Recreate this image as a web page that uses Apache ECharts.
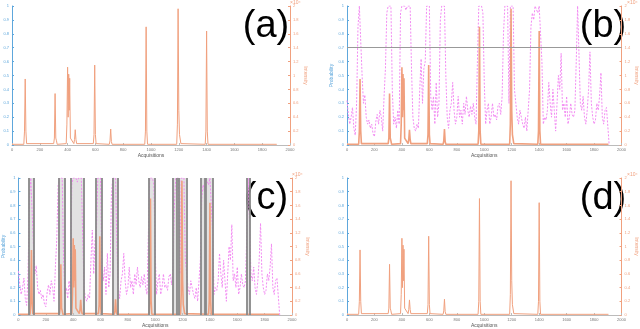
<!DOCTYPE html>
<html>
<head>
<meta charset="utf-8">
<script src="https://cdn.jsdelivr.net/npm/echarts@6/dist/echarts.min.js"></script>
<style>
  html, body { margin: 0; padding: 0; background: #fff; }
  #main { width: 640px; height: 329px; }
</style>
</head>
<body>
<div id="main"></div>
<script>
// probability, one value every 10 acquisitions (0 .. 1910)
var probStep = 10;
var probability = [
  0.32, 0.22, 0.15, 0.2, 0.27, 0.12, 0.07, 0.3, 0.85, 1,
  1, 0.5, 0.3, 0.36, 0.2, 0.15, 0.18, 0.12, 0.15, 0.08,
  0.06, 0.17, 0.22, 0.15, 0.25, 0.2, 0.1, 0.35, 0.55, 0.95,
  1, 1, 1, 0.4, 0.15, 0.2, 0.12, 0.25, 0.15, 0.95,
  1, 1, 1, 0.97, 1, 1, 1, 0.55, 0.2, 0.12,
  0.1, 0.15, 0.12, 0.4, 0.62, 0.3, 0.55, 0.6, 1, 1,
  1, 0.35, 0.25, 0.35, 0.15, 0.45, 0.2, 0.3, 0.9, 1,
  1, 1, 0.5, 0.2, 0.12, 0.25, 0.3, 0.45, 0.25, 0.15,
  0.2, 0.35, 0.2, 0.25, 0.15, 0.3, 0.22, 0.35, 0.25, 0.2,
  0.28, 0.22, 0.3, 0.2, 0.15, 0.6, 1, 1, 1, 0.95,
  0.45, 0.15, 0.25, 0.3, 0.15, 0.2, 0.3, 0.2, 0.22, 0.18,
  0.28, 0.3, 0.22, 0.35, 0.8, 1, 1, 1, 0.3, 1,
  1, 1, 0.4, 0.3, 0.2, 0.15, 0.25, 0.2, 0.15, 0.12,
  0.2, 0.1, 0.25, 0.4, 0.85, 0.95, 0.9, 1, 1, 0.95,
  1, 1, 0.6, 0.15, 0.2, 0.18, 0.25, 0.45, 0.3, 0.2,
  0.4, 0.25, 0.1, 0.3, 0.5, 0.4, 0.66, 0.25, 0.3, 0.2,
  0.35, 0.15, 0.2, 0.3, 0.22, 0.2, 0.25, 0.6, 1, 1,
  0.3, 0.25, 0.35, 0.2, 0.15, 0.25, 0.4, 0.67, 0.3, 0.2,
  0.15, 0.18, 0.3, 0.25, 0.35, 0.52, 0.2, 0.15, 0.25, 0.27,
  0.27, 0
];

// intensity (x10^4) read at the peaks
var intensityX = [0, 85, 90, 95, 100, 105, 300, 305, 310, 315, 320, 325,
  390, 395, 400, 404, 408, 412, 415, 420, 445, 450, 455, 460, 465,
  585, 590, 595, 600, 605, 700, 705, 710, 715, 720,
  955, 960, 965, 970, 975, 1185, 1190, 1195, 1200, 1205, 1210, 1215,
  1390, 1395, 1400, 1405, 1410, 1905];
var intensityY = [0.01, 0.01, 0.2, 0.95, 0.2, 0.02, 0.02, 0.1, 0.74, 0.1, 0.06, 0.01,
  0.02, 0.3, 1.12, 0.4, 1.02, 0.5, 0.96, 0.1, 0.02, 0.08, 0.22, 0.08, 0.02,
  0.02, 0.15, 1.15, 0.15, 0.02, 0.01, 0.06, 0.23, 0.05, 0.01,
  0.01, 0.2, 1.7, 0.2, 0.01, 0.01, 0.3, 1.96, 0.5, 0.15, 0.14, 0.02,
  0.01, 0.2, 1.64, 0.2, 0.01, 0.01];

var threshold = 0.7;
// detected regions in (c)
var shadeStart = [78, 297, 380, 568, 692, 953, 1129, 1174, 1334, 1372, 1669];
var shadeEnd   = [114, 340, 475, 608, 725, 994, 1158, 1227, 1362, 1424, 1693];

var panelLabels = ['(a)', '(b)', '(c)', '(d)'];

var probData = probability.map(function (v, i) { return [i * probStep, v]; });
var intData = intensityX.map(function (x, i) { return [x, intensityY[i]]; });
var shadeAreas = shadeStart.map(function (s, i) { return [{ xAxis: s }, { xAxis: shadeEnd[i] }]; });
var shadeEdges = shadeStart.concat(shadeEnd).map(function (x) { return { xAxis: x }; });

var blue = '#5ea7dc';
var orange = '#f0a07e';
var font = 'Liberation Sans';

var grids = [
  { left: 12, right: 350, top: 6, bottom: 184 },
  { left: 347, right: 14, top: 6, bottom: 184 },
  { left: 12, right: 348, top: 178, bottom: 12 },
  { left: 347, right: 14, top: 178, bottom: 12 }
];

var xAxes = [], yAxes = [];
grids.forEach(function (g, i) {
  xAxes.push({
    gridIndex: i, type: 'value', min: 0, max: 2000, interval: 200,
    name: 'Acquisitions', nameLocation: 'middle', nameGap: 8,
    nameTextStyle: { fontSize: 5, color: '#555', fontFamily: font },
    axisLine: { lineStyle: { color: '#bbb' } },
    axisTick: { inside: true, length: 2, lineStyle: { color: '#bbb' } },
    axisLabel: { fontSize: 4, color: '#777', margin: 3, fontFamily: font,
      formatter: function (v) { return String(v); } },
    splitLine: { show: false }
  });
  yAxes.push({
    gridIndex: i, type: 'value', min: 0, max: 1, interval: 0.1, position: 'left',
    name: (i === 1 || i === 2) ? 'Probability' : '',
    nameLocation: 'middle', nameGap: 11, nameRotate: 90,
    nameTextStyle: { fontSize: 5, color: blue, fontFamily: font },
    axisLine: { show: true, lineStyle: { color: blue } },
    axisTick: { show: true, inside: true, length: 2, lineStyle: { color: blue } },
    axisLabel: { fontSize: 4, color: blue, margin: 3, fontFamily: font },
    splitLine: { show: false }
  });
  yAxes.push({
    gridIndex: i, type: 'value', min: 0, max: 2, interval: 0.2, position: 'right',
    name: 'Intensity', nameLocation: 'middle', nameGap: 12, nameRotate: -90,
    nameTextStyle: { fontSize: 5, color: orange, fontFamily: font },
    axisLine: { show: true, lineStyle: { color: orange } },
    axisTick: { show: true, inside: true, length: 2, lineStyle: { color: orange } },
    axisLabel: { fontSize: 4, color: orange, margin: 3, fontFamily: font },
    splitLine: { show: false }
  });
});

function intensitySeries(i, width) {
  return {
    type: 'line', xAxisIndex: i, yAxisIndex: 2 * i + 1, data: intData,
    symbol: 'none', silent: true, z: 3,
    lineStyle: { color: orange, width: width }
  };
}
function probSeries(i, extra) {
  var s = {
    type: 'line', xAxisIndex: i, yAxisIndex: 2 * i, data: probData,
    symbol: 'none', silent: true, z: 2,
    lineStyle: { color: '#f28cf2', width: 1, type: [2, 1.5] }
  };
  for (var k in extra) s[k] = extra[k];
  return s;
}

var series = [
  intensitySeries(0, 1),
  probSeries(1, {
    markLine: {
      silent: true, symbol: 'none', label: { show: false },
      lineStyle: { color: '#999', type: 'solid', width: 1 },
      data: [{ yAxis: threshold }]
    }
  }),
  intensitySeries(1, 1.6),
  probSeries(2, {
    markArea: {
      silent: true,
      itemStyle: { color: 'rgba(190,190,190,0.45)' },
      data: shadeAreas
    },
    markLine: {
      silent: true, symbol: 'none', label: { show: false },
      lineStyle: { color: '#888', type: 'solid', width: 1.8 },
      data: shadeEdges
    }
  }),
  intensitySeries(2, 1.6),
  intensitySeries(3, 1)
];

var labelPos = [[266, 8], [603, 8], [266, 180], [603, 180]];
var expPos = [[290, 0], [627, 0], [292, 172], [627, 172]];
var graphics = [];
panelLabels.forEach(function (t, i) {
  graphics.push({
    type: 'text', x: labelPos[i][0], y: labelPos[i][1],
    style: { text: t, fontSize: 38, fontFamily: font, fill: '#000', textAlign: 'center' }
  });
  graphics.push({
    type: 'text', x: expPos[i][0], y: expPos[i][1],
    style: { text: '\u00d710\u2074', fontSize: 5, fontFamily: font, fill: orange }
  });
});

var myChart = echarts.init(document.getElementById('main'));
var option = {
  animation: false,
  backgroundColor: '#fff',
  grid: grids,
  xAxis: xAxes,
  yAxis: yAxes,
  series: series,
  graphic: graphics
};
myChart.setOption(option);
</script>
</body>
</html>
